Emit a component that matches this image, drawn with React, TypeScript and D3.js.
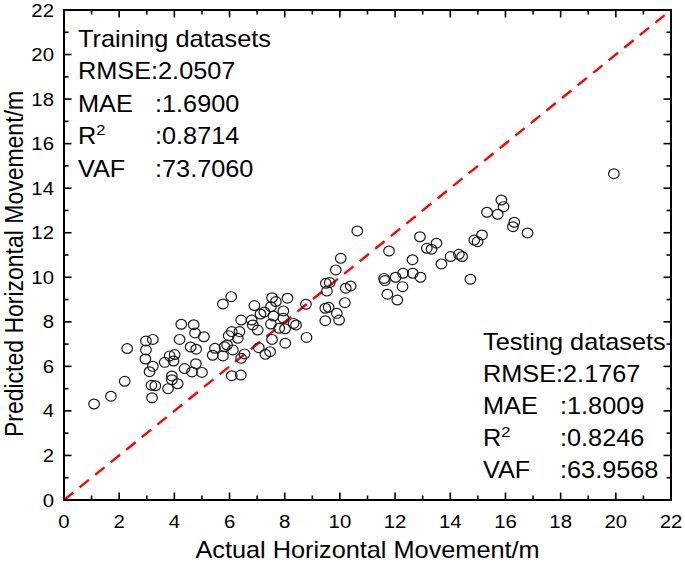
import React from "react";
import * as d3 from "d3";

const actual: number[] = [
  1.09, 1.7, 2.2, 2.29, 2.97, 3.22, 2.97, 2.95, 3.22, 3.1, 3.17, 3.31, 3.19, 3.77, 4.12, 3.65, 3.83, 4.01, 3.97, 3.91,
  3.91, 4.37, 4.64, 5.0, 4.78, 4.25, 4.7, 4.75, 5.07, 4.19, 4.59, 4.79, 5.47, 5.39, 5.76, 5.82, 5.91, 5.97, 6.08, 6.12,
  6.3, 6.42, 6.36, 6.54, 6.42, 6.08, 6.41, 5.76, 6.06, 6.8, 6.9, 6.84, 7.02, 7.12, 7.26, 7.06, 7.3, 7.47, 7.54, 7.68,
  7.5, 7.59, 7.5, 7.8, 7.95, 7.95, 7.54, 8.01, 8.02, 8.1, 8.32, 8.41, 8.79, 8.77, 9.49, 9.63, 9.53, 9.85, 10.03, 10.21,
  10.39, 9.47, 9.59, 9.47, 9.89, 9.97, 10.18, 10.63, 11.78, 11.6, 11.63, 12.02, 12.29, 12.64, 12.92, 12.63, 12.9, 13.15,
  13.32, 13.5, 12.27, 11.72, 12.08, 13.68, 14.01, 14.31, 14.43, 14.73, 14.87, 14.99, 15.15, 15.33, 15.72, 15.85, 15.93,
  16.32, 16.27, 16.8, 19.93,
];
const predicted: number[] = [
  4.31, 4.66, 5.33, 6.8, 7.14, 7.21, 6.74, 6.33, 6.0, 5.76, 5.15, 5.13, 4.59, 5.0, 5.22, 6.18, 6.47, 6.53, 6.24, 5.57,
  5.4, 5.9, 5.75, 5.73, 6.12, 7.89, 7.87, 7.5, 7.33, 7.21, 6.87, 6.77, 6.81, 6.5, 6.47, 6.88, 6.96, 7.38, 7.56, 6.74,
  7.26, 8.08, 7.56, 6.56, 6.36, 5.58, 5.61, 8.8, 9.13, 8.08, 8.73, 7.86, 7.63, 8.35, 8.44, 6.84, 6.54, 6.66, 9.08, 8.91,
  8.68, 8.26, 7.9, 7.71, 8.49, 8.16, 7.21, 7.69, 7.04, 9.06, 7.93, 7.86, 7.3, 8.79, 9.73, 9.76, 9.38, 10.33, 10.85, 9.51,
  9.61, 8.61, 8.65, 8.05, 8.38, 8.08, 8.86, 12.08, 11.18, 9.95, 9.85, 10.0, 10.18, 10.18, 10.0, 10.79, 11.82, 11.3,
  11.26, 11.53, 9.58, 9.24, 8.98, 10.6, 10.93, 11.03, 10.93, 9.91, 11.67, 11.6, 11.9, 12.92, 12.83, 13.47, 13.17,
  12.47, 12.27, 11.99, 14.65,
];

const majorTicks: number[] = [0, 2, 4, 6, 8, 10, 12, 14, 16, 18, 20, 22];
const minorTicks: number[] = [1, 3, 5, 7, 9, 11, 13, 15, 17, 19, 21];

const trainLabels: string[] = ["RMSE:2.0507", "MAE", "R", "VAF"];
const trainValues: string[] = ["", ":1.6900", ":0.8714", ":73.7060"];
const testLabels: string[] = ["RMSE:2.1767", "MAE", "R", "VAF"];
const testValues: string[] = ["", ":1.8009", ":0.8246", ":63.9568"];

const W = 685;
const H = 562;
const L = 64, R = 671, T = 10, B = 500;
const FONT = "'Liberation Sans', Arial, sans-serif";
const SX = 1.1;

function SText(props: { x: number; y: number; size: number; anchor?: string; children: React.ReactNode }) {
  return (
    <g transform={`translate(${props.x},${props.y}) scale(${SX},1)`}>
      <text x={0} y={0} fontFamily={FONT} fontSize={props.size} textAnchor={props.anchor || "start"} fill="#000">
        {props.children}
      </text>
    </g>
  );
}

export default function App() {
  const x = d3.scaleLinear().domain([0, 22]).range([L, R]);
  const y = d3.scaleLinear().domain([0, 22]).range([B, T]);
  const diag = d3.line<number>().x((d) => x(d)).y((d) => y(d))([0, 22]) || "";
  const major = 7.5, minor = 4.5;

  const statBlock = (
    title: string,
    labels: string[],
    values: string[],
    x0: number,
    vx: number,
    base: number,
    step: number
  ) => (
    <g>
      <SText x={x0} y={base} size={23}>{title}</SText>
      {labels.map((lb, i) => (
        <g key={i}>
          <SText x={x0} y={base + step * (i + 1)} size={23}>
            {lb}
            {lb === "R" ? <tspan dy={-9} fontSize={15}>2</tspan> : null}
          </SText>
          {values[i] ? <SText x={vx} y={base + step * (i + 1)} size={23}>{values[i]}</SText> : null}
        </g>
      ))}
    </g>
  );

  return (
    <svg width={W} height={H} style={{ position: "absolute", left: 0, top: 0, background: "#fff" }}>
      <rect width={W} height={H} fill="#fff" />
      <path d={diag} stroke="#ff0000" strokeWidth={2.4} strokeDasharray="12,8" fill="none" />
      {actual.map((a, i) => (
        <ellipse key={i} cx={x(a)} cy={y(predicted[i])} rx={5.3} ry={4.9} fill="none" stroke="#1a1a1a" strokeWidth={1.2} />
      ))}
      <rect x={L} y={T} width={R - L} height={B - T} fill="none" stroke="#000" strokeWidth={2} />
      <g stroke="#000" strokeWidth={1.6}>
        {majorTicks.map((t) => (
          <g key={"M" + t}>
            <line x1={x(t)} x2={x(t)} y1={B} y2={B - major} />
            <line x1={x(t)} x2={x(t)} y1={T} y2={T + major} />
            <line x1={L} x2={L + major} y1={y(t)} y2={y(t)} />
            <line x1={R} x2={R - major} y1={y(t)} y2={y(t)} />
          </g>
        ))}
        {minorTicks.map((t) => (
          <g key={"m" + t}>
            <line x1={x(t)} x2={x(t)} y1={B} y2={B - minor} />
            <line x1={x(t)} x2={x(t)} y1={T} y2={T + minor} />
            <line x1={L} x2={L + minor} y1={y(t)} y2={y(t)} />
            <line x1={R} x2={R - minor} y1={y(t)} y2={y(t)} />
          </g>
        ))}
      </g>
      {majorTicks.map((t) => (
        <SText key={"xl" + t} x={x(t)} y={B + 28} size={18.5} anchor="middle">{t}</SText>
      ))}
      {majorTicks.map((t) => (
        <SText key={"yl" + t} x={L - 10} y={y(t) + 6.5} size={18.5} anchor="end">{t}</SText>
      ))}
      <SText x={(L + R) / 2} y={558} size={23} anchor="middle">Actual Horizontal Movement/m</SText>
      <g transform={`translate(23,264) scale(${SX},1) rotate(-90)`}>
        <text x={0} y={0} textAnchor="middle" fontFamily={FONT} fontSize={23} fill="#000">
          Predicted Horizontal Movement/m
        </text>
      </g>
      {statBlock("Training datasets", trainLabels, trainValues, 78, 155, 46.5, 32.5)}
      {statBlock("Testing datasets", testLabels, testValues, 483, 560, 350, 32)}
    </svg>
  );
}
